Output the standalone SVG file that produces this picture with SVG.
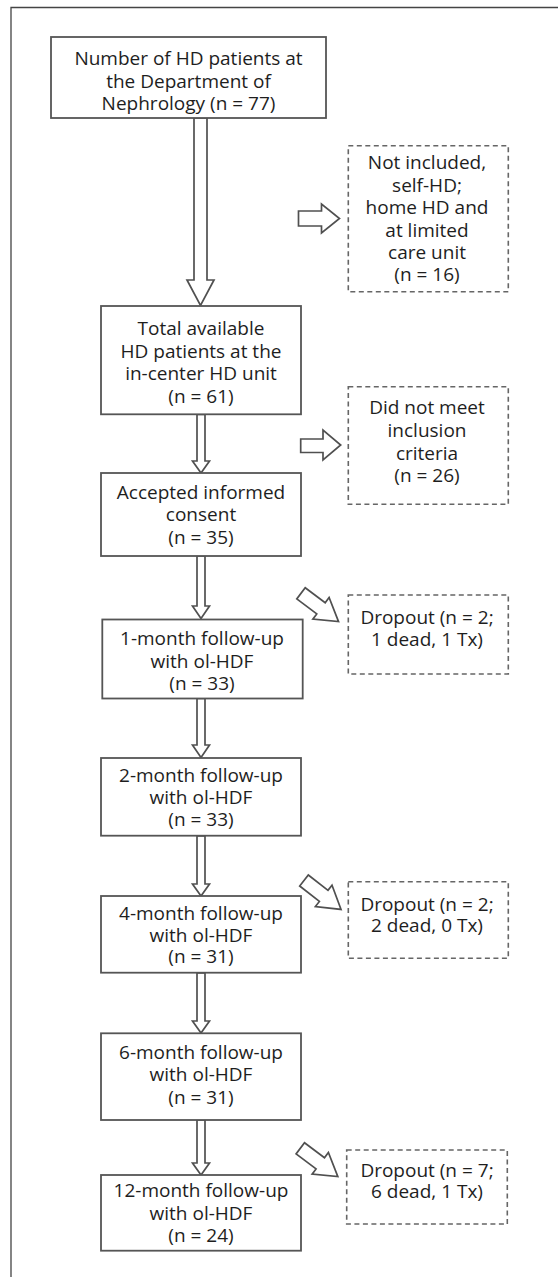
<svg xmlns="http://www.w3.org/2000/svg" width="558" height="1277" viewBox="0 0 558 1277">
<style>
.frame{fill:none;stroke:#444;stroke-width:1.3}
.box{fill:#fff;stroke:#555;stroke-width:1.8}
.dbox{fill:#fff;stroke:#666;stroke-width:1.6;stroke-dasharray:5 3.5}
.arr{fill:#fff;stroke:#505050;stroke-width:1.7;stroke-linejoin:miter}
text{font-family:"Open Sans","Noto Sans","DejaVu Sans",sans-serif;font-size:19px;fill:#1e1e1e;text-anchor:middle}
</style>
<defs>
<path id="diag" d="M0,-7 L25,-7 L25,-13.5 L47,0 L25,13.5 L25,7 L0,7 Z"/>
</defs>
<path class="frame" d="M11,1277 V7.5 H558"/>
<g id="connectors">
<polygon class="arr" points="194,118 194,280 187,280 200.5,305.5 214,280 207,280 207,118"/>
<polygon class="arr" points="298.5,211 321.5,211 321.5,204 339.5,218.5 321.5,233 321.5,226 298.5,226"/>
<polygon class="arr" points="197,414.5 197,461 192.5,461 201,473 209.5,461 205,461 205,414.5"/>
<polygon class="arr" points="300.7,439 323,439 323,430 340.7,445 323,460 323,452.5 300.7,452.5"/>
<polygon class="arr" points="197,556 197,606 192.5,606 201,618.5 209.5,606 205,606 205,556"/>
<use href="#diag" class="arr" transform="translate(301,593.3) rotate(37)"/>
<polygon class="arr" points="197,698.5 197,745 192.5,745 201,757.5 209.5,745 205,745 205,698.5"/>
<polygon class="arr" points="197,836 197,884 192.5,884 201,896 209.5,884 205,884 205,836"/>
<use href="#diag" class="arr" transform="translate(304,880.5) rotate(38)"/>
<polygon class="arr" points="197,973 197,1021 192.5,1021 201,1033 209.5,1021 205,1021 205,973"/>
<polygon class="arr" points="197,1120 197,1163 192.5,1163 201,1175 209.5,1163 205,1163 205,1120"/>
<use href="#diag" class="arr" transform="translate(300.3,1148.3) rotate(37)"/>
</g>
<g id="n1">
<rect class="box" x="51" y="37" width="275" height="81"/>
<text x="188.5" y="65">Number of HD patients at</text>
<text x="188.5" y="87.5">the Department of</text>
<text x="188.5" y="110">Nephrology (n = 77)</text>
</g>
<g id="x1">
<rect class="dbox" x="348.3" y="145.7" width="160" height="146"/>
<text x="427" y="169.3">Not included,</text>
<text x="427" y="191.7">self-HD;</text>
<text x="427" y="214">home HD and</text>
<text x="427" y="236.5">at limited</text>
<text x="427" y="258.8">care unit</text>
<text x="427" y="281">(n = 16)</text>
</g>
<g id="n2">
<rect class="box" x="101" y="306" width="200" height="108.3"/>
<text x="201" y="335">Total available</text>
<text x="201" y="357.5">HD patients at the</text>
<text x="201" y="380">in-center HD unit</text>
<text x="201" y="402.5">(n = 61)</text>
</g>
<g id="x2">
<rect class="dbox" x="348.3" y="386.7" width="160" height="117.6"/>
<text x="427" y="414.3">Did not meet</text>
<text x="427" y="437">inclusion</text>
<text x="427" y="459.5">criteria</text>
<text x="427" y="482">(n = 26)</text>
</g>
<g id="n3">
<rect class="box" x="101" y="473" width="200" height="83"/>
<text x="201" y="498.5">Accepted informed</text>
<text x="201" y="521">consent</text>
<text x="201" y="543.5">(n = 35)</text>
</g>
<g id="x3">
<rect class="dbox" x="348.3" y="595" width="160" height="79"/>
<text x="427" y="624.3">Dropout (n = 2;</text>
<text x="427" y="646">1 dead, 1 Tx)</text>
</g>
<g id="n4">
<rect class="box" x="102.3" y="619.5" width="200.4" height="79"/>
<text x="202" y="645">1-month follow-up</text>
<text x="202" y="667.5">with ol-HDF</text>
<text x="202" y="689.5">(n = 33)</text>
</g>
<g id="n5">
<rect class="box" x="101" y="758" width="200" height="77.7"/>
<text x="201" y="781.7">2-month follow-up</text>
<text x="201" y="803.5">with ol-HDF</text>
<text x="201" y="825.5">(n = 33)</text>
</g>
<g id="n6">
<rect class="box" x="101" y="896" width="200" height="76.7"/>
<text x="201" y="920">4-month follow-up</text>
<text x="201" y="941.7">with ol-HDF</text>
<text x="201" y="963.3">(n = 31)</text>
</g>
<g id="x4">
<rect class="dbox" x="348.3" y="881.7" width="160" height="76.6"/>
<text x="427" y="910.7">Dropout (n = 2;</text>
<text x="427" y="932">2 dead, 0 Tx)</text>
</g>
<g id="n7">
<rect class="box" x="101" y="1033.3" width="200" height="86.7"/>
<text x="201" y="1059.3">6-month follow-up</text>
<text x="201" y="1081">with ol-HDF</text>
<text x="201" y="1103.5">(n = 31)</text>
</g>
<g id="x5">
<rect class="dbox" x="346.7" y="1150" width="160.6" height="74"/>
<text x="427" y="1176.7">Dropout (n = 7;</text>
<text x="427" y="1198.3">6 dead, 1 Tx)</text>
</g>
<g id="n8">
<rect class="box" x="101" y="1175" width="200" height="75.7"/>
<text x="201" y="1197.3">12-month follow-up</text>
<text x="201" y="1219.5">with ol-HDF</text>
<text x="201" y="1241.5">(n = 24)</text>
</g>
</svg>
